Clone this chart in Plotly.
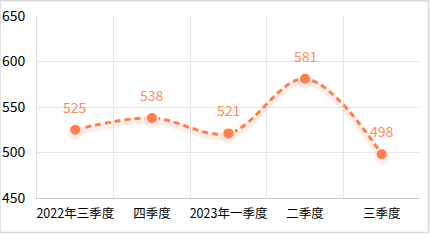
import plotly.graph_objects as go

categories = ["2022年三季度", "四季度", "2023年一季度", "二季度", "三季度"]
values = [525, 538, 521, 581, 498]
y_ticks = [450, 500, 550, 600, 650]

color = "#FF7F50"
xs = list(range(len(categories)))

fig = go.Figure()
# soft shadow (drawn on an overlay axis shifted slightly down)
fig.add_trace(go.Scatter(
    x=xs, y=values, mode="lines", yaxis="y2",
    line=dict(color="rgba(255,127,80,0.13)", width=7, shape="spline", smoothing=1),
    hoverinfo="skip", showlegend=False))
fig.add_trace(go.Scatter(
    x=xs, y=values, mode="markers", yaxis="y2",
    marker=dict(size=15, color="rgba(255,127,80,0.15)"),
    hoverinfo="skip", showlegend=False))
fig.add_trace(go.Scatter(
    x=xs, y=values, mode="lines+markers",
    line=dict(color=color, width=3, shape="spline", smoothing=1, dash="6px,4px"),
    marker=dict(size=12, color=color, line=dict(color="white", width=2)),
    showlegend=False))

annotations = [dict(x=x, y=v, text=str(v), showarrow=False, yshift=23,
                    font=dict(color="#FF8A5C", size=14, family="Noto Sans CJK SC"))
               for x, v in zip(xs, values)]

fig.update_layout(
    width=430, height=242,
    margin=dict(l=37, r=10, t=16, b=44),
    paper_bgcolor="white", plot_bgcolor="white",
    font=dict(family="Noto Sans CJK SC", size=13, color="black"),
    xaxis=dict(range=[-0.5, 4.5], tickvals=xs, ticktext=categories, automargin=False,
               showgrid=False, zeroline=False, showline=True, linecolor="#cccccc",
               ticks="", ticklabelstandoff=4,
               minor=dict(tick0=0.5, dtick=1, showgrid=True, gridcolor="#e6e6e6", gridwidth=1),
               tickfont=dict(size=12.5, color="black")),
    yaxis=dict(range=[450, 650], tickvals=y_ticks, showgrid=True, gridcolor="#e6e6e6",
               automargin=False,
               zeroline=False, showline=True, linecolor="#e0e0e0", ticks="",
               ticklabelstandoff=8, tickfont=dict(size=14, color="black")),
    yaxis2=dict(range=[453, 653], overlaying="y", visible=False),
    annotations=annotations,
    shapes=[dict(type="rect", xref="paper", yref="paper", x0=-37/383, x1=(428.5-37)/383,
                 y0=(242-44-232.5)/182, y1=(242-44-0.75)/182,
                 line=dict(color="#d9d9d9", width=1.5), fillcolor="rgba(0,0,0,0)", layer="below")],
)
fig.update_traces(cliponaxis=False)
fig.write_html("out.html")
